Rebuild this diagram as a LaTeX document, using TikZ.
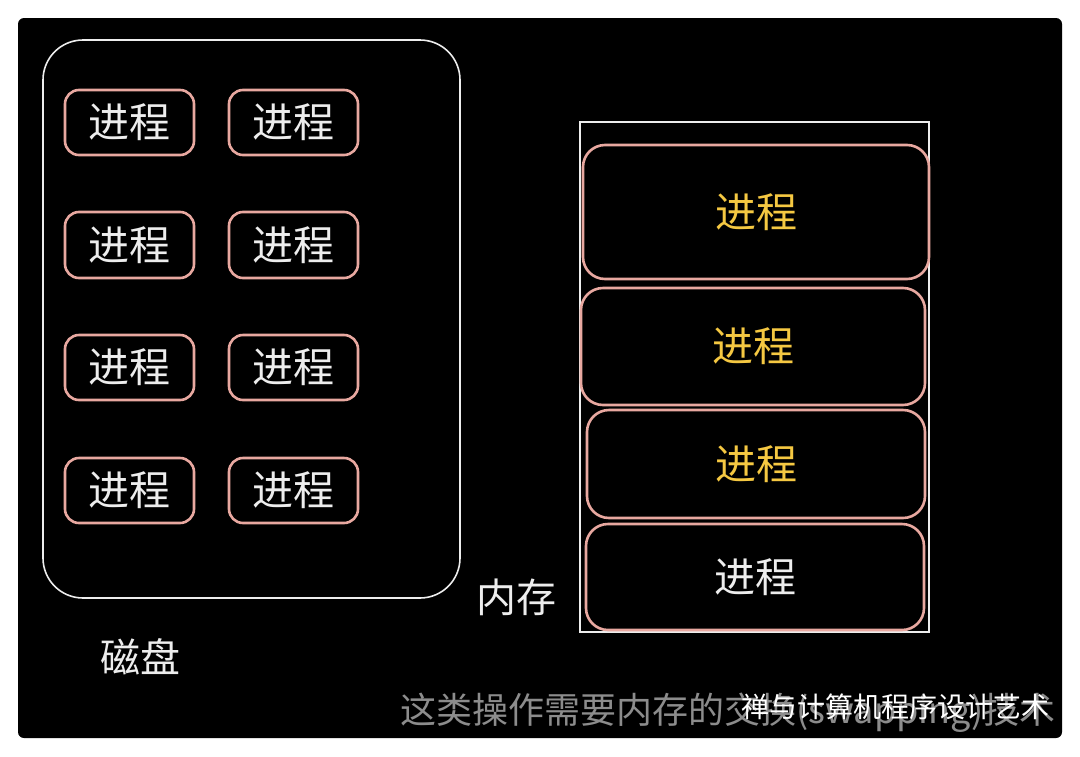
\documentclass[tikz,border=0pt]{standalone}
\usepackage{fontspec}
\newfontfamily\cjk{Noto Sans CJK SC}
\definecolor{pinkline}{HTML}{E8A8A0}
\definecolor{procyellow}{HTML}{F5C842}
\definecolor{softwhite}{HTML}{EDEDED}
\begin{document}
\begin{tikzpicture}[x=1pt, y=-1pt]
    \tikzstyle{proc} = [draw=pinkline, line width=2.6pt, rounded corners=14pt, text=softwhite, font=\cjk\fontsize{41}{41}\selectfont]
    \tikzstyle{memproc} = [proc, rounded corners=22pt, text=procyellow]

    \useasboundingbox (0,0) rectangle (1080,756);
    \fill[white] (0,0) rectangle (1080,756);
    \fill[black, rounded corners=6pt] (18,18) rectangle (1062,738);

    % disk
    \draw[softwhite, line width=1.6pt, rounded corners=40pt] (43,40) rectangle (460,598);
    \foreach \r/\ya/\yb in {1/90/155, 2/212/278, 3/335/400, 4/458/523} {
        \draw[proc] (65,\ya) rectangle (194,\yb) node[midway] (dl\r) {进程};
        \draw[proc] (229,\ya) rectangle (358,\yb) node[midway] (dr\r) {进程};
    }
    \node[text=softwhite, font=\cjk\fontsize{40}{40}\selectfont] (disk) at (140,657) {磁盘};

    % memory
    \draw[softwhite, line width=1.2pt] (580,122) rectangle (929,632);
    \draw[memproc] (583,145) rectangle (929,279) node[midway] (m1) {进程};
    \draw[memproc] (581,288) rectangle (925,405) node[midway] (m2) {进程};
    \draw[memproc] (587,410) rectangle (925,518) node[midway] (m3) {进程};
    \draw[memproc, text=softwhite] (586,524) rectangle (924,630) node[midway] (m4) {进程};
    \node[text=softwhite, font=\cjk\fontsize{40}{40}\selectfont] (mem) at (516,597) {内存};

    % caption and watermark
    \node[text=white!55!black, font=\cjk\fontsize{36}{36}\selectfont] (cap) at (728,713) {这类操作需要内存的交换(swapping)技术};
    \node[text=white, font=\cjk\fontsize{28}{28}\selectfont] (wm) at (895,707) {禅与计算机程序设计艺术};
\end{tikzpicture}
\end{document}
